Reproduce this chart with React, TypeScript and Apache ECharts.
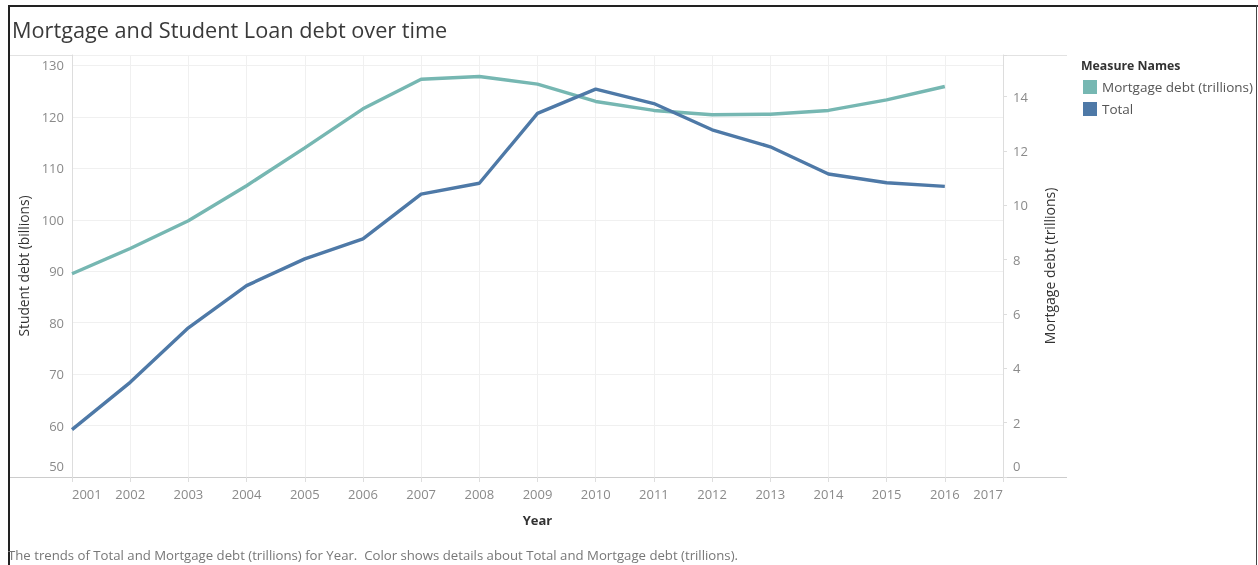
import React, { useEffect, useRef } from "react";
import * as echarts from "echarts";

const years = [2001, 2002, 2003, 2004, 2005, 2006, 2007, 2008, 2009, 2010, 2011, 2012, 2013, 2014, 2015, 2016];
const mortgageDebt = [7.48, 8.41, 9.43, 10.72, 12.11, 13.55, 14.64, 14.74, 14.46, 13.82, 13.49, 13.33, 13.35, 13.49, 13.88, 14.37];
const totalStudent = [59.2, 68.4, 79.0, 87.2, 92.4, 96.3, 105.0, 107.1, 120.7, 125.4, 122.6, 117.5, 114.2, 108.9, 107.2, 106.5];
const seriesNames = ["Mortgage debt (trillions)", "Total"];
const titleText = "Mortgage and Student Loan debt over time";
const captionText = "The trends of Total and Mortgage debt (trillions) for Year.  Color shows details about Total and Mortgage debt (trillions).";
const legendTitle = "Measure Names";

const FONT = "'Open Sans', 'Noto Sans', sans-serif";

export default function App() {
  const ref = useRef<HTMLDivElement>(null);
  useEffect(() => {
    if (!ref.current) return;
    const chart = echarts.init(ref.current, undefined, { renderer: "svg" });
    const axisLabelColor = "#8a8a8a";
    const minRich = { m: { color: axisLabelColor, fontSize: 13, padding: [0, 0, 5, 0] } };
    chart.setOption({
      animation: false,
      textStyle: { fontFamily: FONT },
      title: {
        text: titleText,
        left: 7,
        top: 13,
        textStyle: { fontSize: 21.7, fontWeight: "normal", color: "#3a3a3a", fontFamily: FONT },
      },
      legend: {
        orient: "vertical",
        left: 1078,
        top: 75,
        itemWidth: 14,
        itemHeight: 14,
        itemGap: 8,
        icon: "rect",
        data: seriesNames,
        textStyle: { color: "#555", fontSize: 13.5, fontFamily: FONT },
      },
      grid: { left: 72, right: 255, top: 55, bottom: 88 },
      xAxis: {
        type: "value",
        min: 2001,
        max: 2017,
        interval: 1,
        name: "Year",
        nameLocation: "middle",
        nameGap: 36,
        nameTextStyle: { color: "#333", fontSize: 13, fontWeight: "bold" },
        axisLine: { show: true, lineStyle: { color: "#cccccc" } },
        axisTick: { show: true, length: 5, lineStyle: { color: "#dddddd" } },
        axisLabel: {
          color: axisLabelColor,
          fontSize: 13,
          margin: 10,
          formatter: (v: number) => String(v),
          alignMinLabel: "left",
          alignMaxLabel: "right",
        },
        splitLine: { show: true, lineStyle: { color: "#f0f0f0" } },
      },
      yAxis: [
        {
          type: "value",
          min: 50,
          max: 132.04,
          interval: 10,
          position: "left",
          name: "Student debt (billions)",
          nameLocation: "middle",
          nameRotate: 90,
          nameGap: 38,
          nameTextStyle: { color: "#333", fontSize: 13.8 },
          axisLine: { show: true, lineStyle: { color: "#dddddd" } },
          axisTick: { show: false },
          axisLabel: {
            color: axisLabelColor,
            fontSize: 13,
            margin: 8,
            verticalAlignMinLabel: "bottom",
            rich: minRich,
            formatter: (v: number) =>
              v === 50 ? "{m|50}" : Math.abs(v % 10) < 1e-6 ? String(v) : "",
          },
          splitLine: { show: true, lineStyle: { color: "#f0f0f0" } },
        },
        {
          type: "value",
          min: 0,
          max: 15.53,
          interval: 2,
          position: "right",
          name: "Mortgage debt (trillions)",
          nameLocation: "middle",
          nameRotate: 90,
          nameGap: 39,
          nameTextStyle: { color: "#333", fontSize: 14 },
          axisLine: { show: true, lineStyle: { color: "#dddddd" } },
          axisTick: { show: true, length: 4, lineStyle: { color: "#dddddd" } },
          axisLabel: {
            color: axisLabelColor,
            fontSize: 13,
            margin: 10,
            verticalAlignMinLabel: "bottom",
            rich: minRich,
            formatter: (v: number) =>
              v === 0 ? "{m|0}" : Math.abs(v % 2) < 1e-6 ? String(v) : "",
          },
          splitLine: { show: false },
        },
      ],
      series: [
        {
          name: seriesNames[0],
          type: "line",
          yAxisIndex: 1,
          data: years.map((y, i) => [y, mortgageDebt[i]]),
          showSymbol: false,
          symbol: "none",
          lineStyle: { width: 3.4, color: "#76b7b2" },
          itemStyle: { color: "#76b7b2" },
        },
        {
          name: seriesNames[1],
          type: "line",
          yAxisIndex: 0,
          data: years.map((y, i) => [y, totalStudent[i]]),
          showSymbol: false,
          symbol: "none",
          lineStyle: { width: 3.4, color: "#4e79a7" },
          itemStyle: { color: "#4e79a7" },
        },
      ],
      graphic: [
        { type: "rect", shape: { x: 8, y: 5, width: 1250, height: 2 }, style: { fill: "#222" } },
        { type: "rect", shape: { x: 8, y: 5, width: 2, height: 560 }, style: { fill: "#222" } },
        { type: "rect", shape: { x: 1256, y: 5, width: 1, height: 560 }, style: { fill: "#444" } },
        { type: "line", shape: { x1: 10, y1: 55.5, x2: 1067, y2: 55.5 }, style: { stroke: "#e2e2e2", lineWidth: 1 } },
        { type: "line", shape: { x1: 10, y1: 477.5, x2: 1067, y2: 477.5 }, style: { stroke: "#cccccc", lineWidth: 1 } },
        {
          type: "text",
          left: 1081,
          top: 59,
          style: { text: legendTitle, fill: "#333", font: `bold 12.3px ${FONT}` },
        },
        {
          type: "text",
          left: 8,
          top: 548,
          style: { text: captionText, fill: "#777", font: `13.2px ${FONT}` },
        },
      ],
    });
    return () => chart.dispose();
  }, []);
  return <div ref={ref} style={{ position: "fixed", left: 0, top: 0, width: 1258, height: 565 }} />;
}
